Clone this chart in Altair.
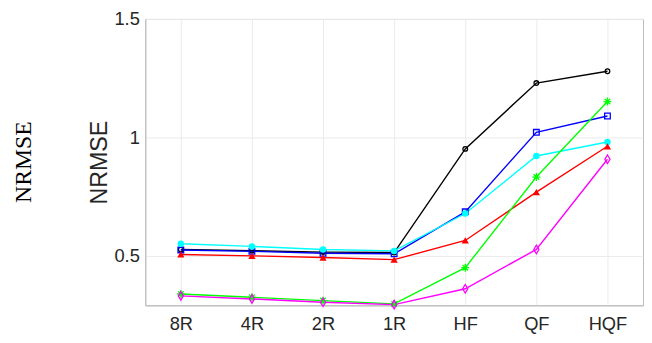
import altair as alt
import pandas as pd

categories = ["8R", "4R", "2R", "1R", "HF", "QF", "HQF"]
series_names = ["black", "blue", "cyan", "red", "green", "magenta"]
black_vals = [0.526, 0.521, 0.515, 0.513, 0.951, 1.229, 1.279]
blue_vals = [0.524, 0.518, 0.510, 0.508, 0.685, 1.021, 1.090]
cyan_vals = [0.550, 0.539, 0.526, 0.520, 0.678, 0.921, 0.980]
red_vals = [0.505, 0.499, 0.492, 0.483, 0.564, 0.768, 0.962]
green_vals = [0.338, 0.324, 0.310, 0.296, 0.449, 0.832, 1.151]
magenta_vals = [0.330, 0.317, 0.303, 0.293, 0.360, 0.526, 0.907]
y_ticks = [0.5, 1, 1.5]

colors = ["#000000", "#0000FF", "#00FFFF", "#FF0000", "#00FF00", "#FF00FF"]
asterisk = "M-1,0L1,0M0,-1L0,1M-0.7,-0.7L0.7,0.7M-0.7,0.7L0.7,-0.7"
tall_diamond = "M0,-1L0.6,0L0,1L-0.6,0Z"
shapes = ["circle", "square", "circle", "triangle-up", asterisk, tall_diamond]
sizes = [22, 75, 4, 40, 75, 190]
filled_flags = [False, False, True, True, False, False]

rows = []
all_vals = [black_vals, blue_vals, cyan_vals, red_vals, green_vals, magenta_vals]
for name, vals, f in zip(series_names, all_vals, filled_flags):
    for c, v in zip(categories, vals):
        rows.append({"cat": c, "series": name, "value": v, "filled": f})
df = pd.DataFrame(rows)

x_enc = alt.X("cat:N", sort=categories,
              scale=alt.Scale(type="point", domain=categories, padding=0.5),
              axis=alt.Axis(title=None, labelFontSize=18.5, labelPadding=9,
                            ticks=False, labelAngle=0))
y_enc = alt.Y("value:Q",
              scale=alt.Scale(domain=[0.29, 1.5], nice=False, zero=False),
              axis=alt.Axis(title="NRMSE", values=y_ticks, format="~g",
                            labelFontSize=18.5, labelPadding=6, ticks=False,
                            titleFontSize=23.5, titleFontWeight="normal",
                            titleColor="#262626", titlePadding=3))
color_enc = alt.Color("series:N", scale=alt.Scale(domain=series_names, range=colors), legend=None)

lines = alt.Chart(df).mark_line(strokeWidth=1.4).encode(
    x=x_enc, y=y_enc, color=color_enc, detail="series:N")

shape_enc = alt.Shape("series:N", scale=alt.Scale(domain=series_names, range=shapes), legend=None)
size_enc = alt.Size("series:N", scale=alt.Scale(domain=series_names, range=sizes), legend=None)

open_pts = alt.Chart(df).transform_filter("!datum.filled").mark_point(
    filled=False, strokeWidth=1.3, opacity=1).encode(
    x=x_enc, y=y_enc, color=color_enc, shape=shape_enc, size=size_enc)

filled_pts = alt.Chart(df).transform_filter("datum.filled").mark_point(
    filled=True, opacity=1).encode(
    x=x_enc, y=y_enc, color=color_enc, shape=shape_enc, size=size_enc)

chart = alt.layer(lines, open_pts, filled_pts).properties(
    width=504, height=290,
    autosize=alt.AutoSizeParams(type="none"),
    padding={"left": 139, "top": 9, "right": 1, "bottom": 30},
    title=alt.TitleParams(text="NRMSE", orient="left", font="Liberation Serif",
                          fontSize=24, fontWeight="normal", color="#000000",
                          offset=52, anchor="middle"),
).configure_axis(
    labelFont="Liberation Sans", titleFont="Liberation Sans",
    labelColor="#262626", gridColor="#EBEBEB", domainColor="#BDBDBD",
    grid=True,
).configure_view(stroke="#BDBDBD", strokeWidth=1)

chart.save("out.html", embed_options={"renderer": "svg", "actions": False})
